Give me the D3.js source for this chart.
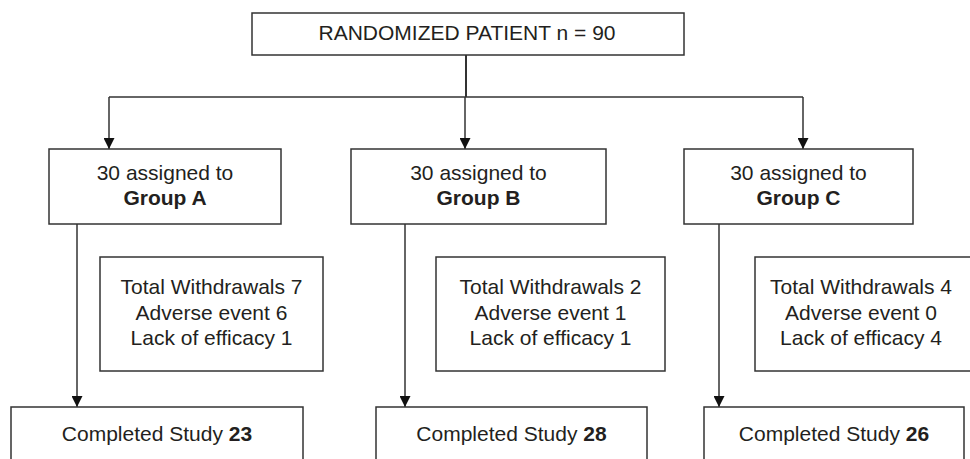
<!DOCTYPE html>
<html>
<head>
<meta charset="utf-8">
<script src="https://cdn.jsdelivr.net/npm/d3@7"></script>
<style>
  html, body { margin: 0; padding: 0; background: #fff; }
  svg { display: block; }
  text { font-family: "Liberation Sans", Arial, sans-serif; fill: #231f20; }
</style>
</head>
<body>
<figure style="margin:0"></figure>
<script>
const randomized = 90
const groups = ['Group A', 'Group B', 'Group C']
const assigned = [30, 30, 30]
const withdrawals = [7, 2, 4]
const adverse = [6, 1, 0]
const lackEfficacy = [1, 1, 4]
const completed = [23, 28, 26]

// layout of each column (boxes are not evenly spaced in the original)
const layout = [
  {gx: [49, 281], arrow: 109, down: 77, wx: [100, 323], cx: [11, 303]},
  {gx: [351, 606], arrow: 465, down: 405, wx: [436, 665], cx: [376, 647]},
  {gx: [684, 913], arrow: 803, down: 719, wx: [755, 975], cx: [704, 964]}
]

const width = 970, height = 459,
      stroke = '#333', fs = 21

const svg = d3.select('figure')
  .append('svg')
    .attr('width', width)
    .attr('height', height)

svg.append('defs').append('marker')
    .attr('id', 'arr')
    .attr('viewBox', '0 0 10 10')
    .attr('refX', 10).attr('refY', 5)
    .attr('markerWidth', 11).attr('markerHeight', 11)
    .attr('markerUnits', 'userSpaceOnUse')
    .attr('orient', 'auto')
  .append('path')
    .attr('d', 'M0,0L10,5L0,10Z')
    .attr('fill', '#111')

function box(x0, x1, y0, y1) {
  svg.append('rect')
    .attr('x', x0).attr('y', y0)
    .attr('width', x1 - x0).attr('height', y1 - y0)
    .attr('fill', 'none')
    .attr('stroke', stroke)
    .attr('stroke-width', 1.5)
}

function line(x0, y0, x1, y1, arrow, w) {
  const l = svg.append('line')
    .attr('x1', x0).attr('y1', y0)
    .attr('x2', x1).attr('y2', y1)
    .attr('stroke', stroke)
    .attr('stroke-width', w || 1.5)
  if (arrow) l.attr('marker-end', 'url(#arr)')
}

// top box
box(252, 684, 13, 55)
svg.append('text')
    .attr('x', 467).attr('y', 40)
    .attr('text-anchor', 'middle')
    .attr('font-size', fs)
    .text('RANDOMIZED PATIENT n = ' + randomized)

line(466, 55, 466, 97, false, 2)
line(d3.min(layout, d => d.arrow), 97, d3.max(layout, d => d.arrow), 97)

groups.forEach((g, i) => {
  const L = layout[i]
  line(L.arrow, 97, L.arrow, 149, true)
  box(L.gx[0], L.gx[1], 149, 224)
  const gc = (L.gx[0] + L.gx[1]) / 2
  svg.append('text')
      .attr('x', gc).attr('y', 180)
      .attr('text-anchor', 'middle')
      .attr('font-size', fs)
      .text(assigned[i] + ' assigned to')
  svg.append('text')
      .attr('x', gc).attr('y', 205)
      .attr('text-anchor', 'middle')
      .attr('font-size', fs)
      .attr('font-weight', 'bold')
      .text(g)

  line(L.down, 224, L.down, 407, true)

  box(L.wx[0], L.wx[1], 257, 371)
  const wc = (L.wx[0] + Math.min(L.wx[1], 967)) / 2
  const rows = ['Total Withdrawals ' + withdrawals[i],
                'Adverse event ' + adverse[i],
                'Lack of efficacy ' + lackEfficacy[i]]
  rows.forEach((r, j) => {
    svg.append('text')
        .attr('x', wc).attr('y', 294 + j * 25.5)
        .attr('text-anchor', 'middle')
        .attr('font-size', fs)
        .text(r)
  })

  box(L.cx[0], L.cx[1], 407, 480)
  const t = svg.append('text')
      .attr('x', (L.cx[0] + L.cx[1]) / 2).attr('y', 441)
      .attr('text-anchor', 'middle')
      .attr('font-size', fs)
  t.append('tspan').text('Completed Study ')
  t.append('tspan').attr('font-weight', 'bold').text(completed[i])
})
</script>
</body>
</html>
